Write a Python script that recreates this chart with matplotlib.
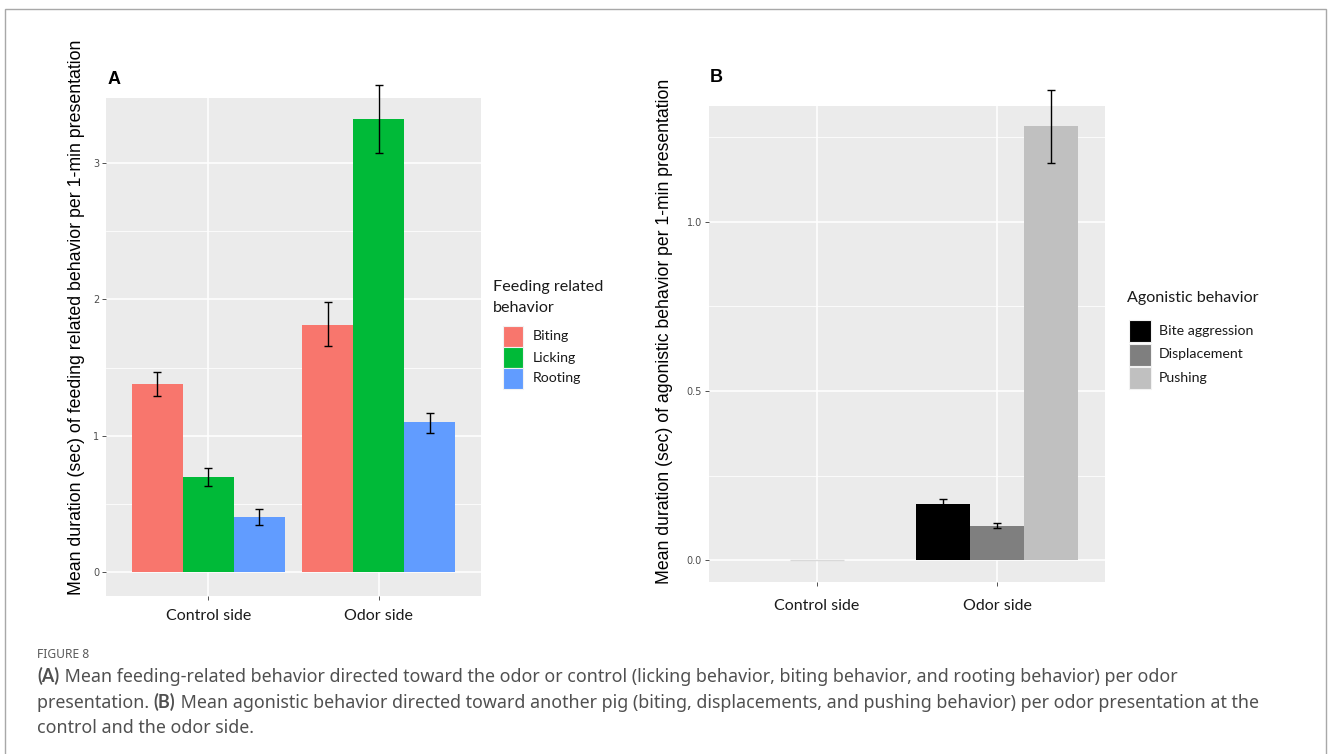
import numpy as np
import matplotlib
matplotlib.use("Agg")
import matplotlib.pyplot as plt
from matplotlib.patches import Rectangle

# ── data ─────────────────────────────────────────────────────
sides = ["Control side", "Odor side"]

feed_groups = ["Biting", "Licking", "Rooting"]
feed_colors = ["#F8766D", "#00BA38", "#619CFF"]
feed_mean = {
    "Biting":  [1.38, 1.81],
    "Licking": [0.70, 3.32],
    "Rooting": [0.40, 1.10],
}
feed_lo = {
    "Biting":  [1.29, 1.66],
    "Licking": [0.63, 3.07],
    "Rooting": [0.345, 1.02],
}
feed_hi = {
    "Biting":  [1.465, 1.98],
    "Licking": [0.76, 3.57],
    "Rooting": [0.465, 1.165],
}

agon_groups = ["Bite aggression", "Displacement", "Pushing"]
agon_colors = ["#000000", "#7F7F7F", "#C0C0C0"]
agon_mean = {
    "Bite aggression": [np.nan, 0.166],
    "Displacement":    [np.nan, 0.101],
    "Pushing":         [np.nan, 1.285],
}
agon_lo = {
    "Bite aggression": [np.nan, 0.155],
    "Displacement":    [np.nan, 0.095],
    "Pushing":         [np.nan, 1.175],
}
agon_hi = {
    "Bite aggression": [np.nan, 0.181],
    "Displacement":    [np.nan, 0.111],
    "Pushing":         [np.nan, 1.390],
}
control_zero = 0.0   # control side: single empty bar at zero

caption_lines = [
    [("(A)", True), (" Mean feeding-related behavior directed toward the odor or control "
                     "(licking behavior, biting behavior, and rooting behavior) per odor", False)],
    [("presentation. ", False), ("(B)", True),
     (" Mean agonistic behavior directed toward another pig (biting, displacements, "
      "and pushing behavior) per odor presentation at the", False)],
    [("control and the odor side.", False)],
]

W, H = 1328, 754
BG = "#EBEBEB"
LAB_FONT = ["Liberation Sans", "DejaVu Sans"]
CAT_FONT = ["Lato", "DejaVu Sans"]
CAP_FONT = ["Noto Sans", "DejaVu Sans"]


def px_rect(l, t, r, b):
    return [l / W, 1 - b / H, (r - l) / W, (b - t) / H]


def fx(px):
    return px / W


def fy(py):
    return 1 - py / H


def style_axes(ax, yticks, ylabels, minor, xpad):
    ax.set_facecolor(BG)
    for s in ax.spines.values():
        s.set_visible(False)
    ax.set_xlim(0.4, 2.6)
    ax.set_xticks([1, 2])
    ax.set_xticklabels(sides, fontsize=11.5, family=CAT_FONT, color="#1a1a1a")
    ax.set_yticks(yticks)
    ax.set_yticklabels(ylabels, fontsize=7, color="#4D4D4D")
    ax.set_yticks(minor, minor=True)
    ax.tick_params(axis="both", which="major", length=3, width=0.6,
                   color="#333333", pad=2)
    ax.tick_params(axis="x", pad=xpad)
    ax.tick_params(axis="y", which="minor", length=0)
    ax.grid(True, which="major", color="white", lw=1.1)
    ax.grid(True, which="minor", axis="y", color="white", lw=0.55)
    ax.set_axisbelow(True)


def draw_legend(title_lines, labels, colors, left, title_y, key_left, key_top,
                key_w, key_h, key_step, text_left):
    # ggplot-style legend: left-aligned title, touching square keys
    for j, t in enumerate(title_lines):
        fig.text(fx(left), fy(title_y[j]), t, fontsize=11.6, family=CAT_FONT,
                 color="#1a1a1a", ha="left", va="center")
    for j, (lab, c) in enumerate(zip(labels, colors)):
        top = key_top + j * key_step
        fig.patches.append(Rectangle((fx(key_left), fy(top + key_h)),
                                     key_w / W, key_h / H,
                                     transform=fig.transFigure, fc=c,
                                     ec="#F2F2F2", lw=0.8))
        fig.text(fx(text_left), fy(top + key_h / 2), lab, fontsize=10.2,
                 family=CAT_FONT, color="#1a1a1a", ha="left", va="center")


fig = plt.figure(figsize=(W / 100, H / 100), dpi=100)
fig.patches.append(Rectangle((fx(4.5), -0.1), (1326 - 4.5) / W, 1.1 - 9 / H,
                             transform=fig.transFigure, fill=False,
                             ec="#A8A8A8", lw=1.0))

x = np.arange(1, len(sides) + 1)
bw = 0.3

# ── Panel A ──────────────────────────────────────────────────
axA = fig.add_axes(px_rect(106, 98, 481, 596))
style_axes(axA, [0, 1, 2, 3], ["0", "1", "2", "3"], [0.5, 1.5, 2.5], 6)
axA.set_ylim(-0.176, 3.477)
for i, g in enumerate(feed_groups):
    xi = x + (i - 1) * bw
    m = np.array(feed_mean[g])
    axA.bar(xi, m, bw, color=feed_colors[i], zorder=2)
    lo, hi = np.array(feed_lo[g]), np.array(feed_hi[g])
    axA.errorbar(xi, m, yerr=[m - lo, hi - m], fmt="none", ecolor="black",
                 elinewidth=1.0, capsize=3, capthick=1.0, zorder=3, clip_on=False)
axA.set_ylabel("Mean duration (sec) of feeding related behavior per 1-min presentation",
               fontsize=12.8, family=LAB_FONT)
axA.yaxis.set_label_coords(-0.056, 0.56)
fig.text(fx(108), fy(80), "A", fontsize=13, fontweight="bold",
         family=LAB_FONT, va="center", ha="left")

draw_legend(["Feeding related", "behavior"], feed_groups, feed_colors,
            left=493, title_y=[287, 308], key_left=503, key_top=326,
            key_w=20, key_h=21, key_step=21, text_left=533)

# ── Panel B ──────────────────────────────────────────────────
axB = fig.add_axes(px_rect(709, 106, 1105, 582))
style_axes(axB, [0.0, 0.5, 1.0], ["0.0", "0.5", "1.0"], [0.25, 0.75, 1.25], 9)
axB.set_ylim(-0.065, 1.343)
axB.hlines(control_zero, x[0] - bw / 2, x[0] + bw / 2, color="#D9D9D9", lw=1.0, zorder=2)
for i, g in enumerate(agon_groups):
    xi = x + (i - 1) * bw
    m = np.array(agon_mean[g])
    axB.bar(xi, m, bw, color=agon_colors[i], zorder=2)
    lo, hi = np.array(agon_lo[g]), np.array(agon_hi[g])
    axB.errorbar(xi, m, yerr=[m - lo, hi - m], fmt="none", ecolor="black",
                 elinewidth=1.0, capsize=3, capthick=1.0, zorder=3, clip_on=False)
axB.set_ylabel("Mean duration (sec) of agonistic behavior per 1-min presentation",
               fontsize=12.7, family=LAB_FONT)
axB.yaxis.set_label_coords(-0.091, 0.527)
fig.text(fx(710), fy(77), "B", fontsize=13, fontweight="bold",
         family=LAB_FONT, va="center", ha="left")

draw_legend(["Agonistic behavior"], agon_groups, agon_colors,
            left=1127, title_y=[298], key_left=1129, key_top=320,
            key_w=22, key_h=22, key_step=23.5, text_left=1159)

# ── Caption ──────────────────────────────────────────────────
fig.text(fx(37), fy(654), "FIGURE 8", fontsize=8.7, color="#5a5a5a",
         family=CAP_FONT, va="center")
renderer = fig.canvas.get_renderer()
for k, parts in enumerate(caption_lines):
    base = 682 + 25.5 * k
    cur = 37.0
    for txt, bold in parts:
        t = fig.text(fx(cur), fy(base), txt, fontsize=12.85, color="#505050",
                     family=["Lato", "DejaVu Sans"] if bold else CAP_FONT,
                     fontweight="bold" if bold else "normal",
                     ha="left", va="baseline")
        cur += t.get_window_extent(renderer).width + (1 if bold else 0)

fig.savefig("out.png", dpi=100)
